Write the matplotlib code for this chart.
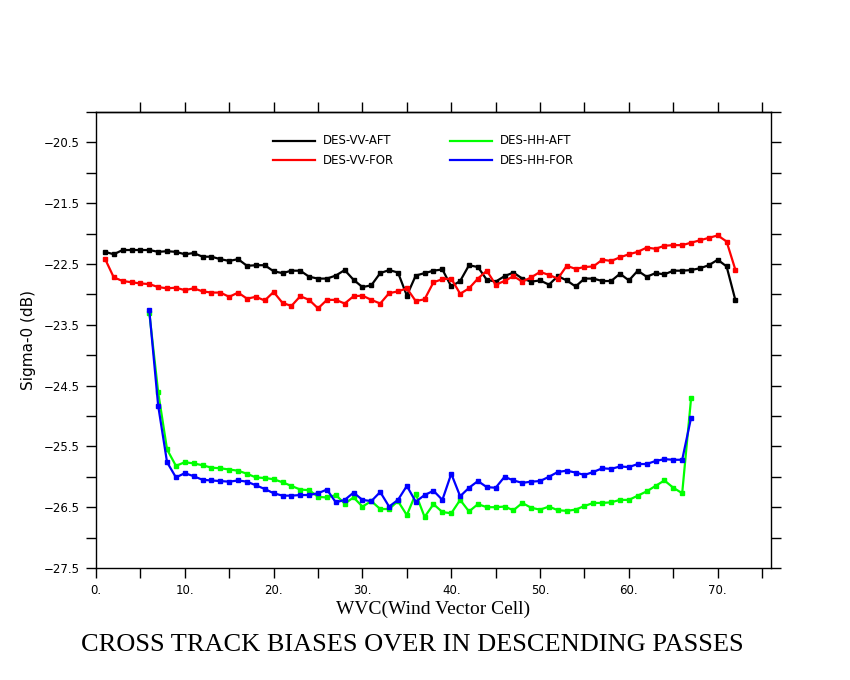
import numpy as np
import matplotlib
matplotlib.use("Agg")
import matplotlib.pyplot as plt
from matplotlib.lines import Line2D

# WVC index for each series
wvc_vv = np.arange(1, 73)
wvc_hh = np.arange(6, 68)

des_vv_aft = [-22.30, -22.34, -22.27, -22.27, -22.27, -22.27, -22.30, -22.29, -22.30, -22.34,
              -22.32, -22.38, -22.38, -22.42, -22.45, -22.42, -22.53, -22.52, -22.52, -22.62,
              -22.65, -22.61, -22.61, -22.71, -22.74, -22.74, -22.69, -22.60, -22.76, -22.88,
              -22.85, -22.65, -22.60, -22.64, -23.02, -22.69, -22.65, -22.61, -22.59, -22.87,
              -22.78, -22.52, -22.55, -22.76, -22.79, -22.70, -22.64, -22.74, -22.79, -22.77,
              -22.84, -22.70, -22.77, -22.87, -22.74, -22.74, -22.78, -22.78, -22.66, -22.77,
              -22.61, -22.71, -22.65, -22.67, -22.61, -22.61, -22.60, -22.57, -22.52, -22.43,
              -22.54, -23.10]

des_vv_for = [-22.41, -22.72, -22.78, -22.80, -22.82, -22.83, -22.88, -22.90, -22.89, -22.93,
              -22.90, -22.95, -22.97, -22.97, -23.04, -22.97, -23.07, -23.04, -23.10, -22.96,
              -23.14, -23.19, -23.03, -23.09, -23.23, -23.09, -23.09, -23.15, -23.03, -23.02,
              -23.09, -23.15, -22.98, -22.95, -22.90, -23.11, -23.08, -22.80, -22.75, -22.74,
              -22.99, -22.90, -22.74, -22.61, -22.84, -22.78, -22.70, -22.79, -22.72, -22.63,
              -22.68, -22.74, -22.53, -22.58, -22.55, -22.54, -22.43, -22.45, -22.39, -22.34,
              -22.30, -22.23, -22.25, -22.20, -22.19, -22.19, -22.15, -22.11, -22.07, -22.03,
              -22.13, -22.60]

des_hh_aft = [-23.30, -24.61, -25.55, -25.82, -25.76, -25.78, -25.81, -25.85, -25.86, -25.88,
              -25.90, -25.95, -26.01, -26.02, -26.04, -26.09, -26.15, -26.21, -26.22, -26.33,
              -26.34, -26.30, -26.44, -26.34, -26.49, -26.40, -26.53, -26.53, -26.40, -26.63,
              -26.28, -26.66, -26.45, -26.58, -26.60, -26.38, -26.57, -26.45, -26.50, -26.50,
              -26.49, -26.55, -26.43, -26.51, -26.54, -26.49, -26.55, -26.56, -26.54, -26.48,
              -26.43, -26.43, -26.42, -26.38, -26.38, -26.31, -26.24, -26.15, -26.06, -26.18,
              -26.27, -24.71]

des_hh_for = [-23.26, -24.83, -25.76, -26.01, -25.94, -25.99, -26.05, -26.06, -26.07, -26.08,
              -26.06, -26.08, -26.14, -26.20, -26.27, -26.31, -26.31, -26.30, -26.30, -26.27,
              -26.21, -26.42, -26.38, -26.26, -26.38, -26.40, -26.25, -26.49, -26.38, -26.15,
              -26.41, -26.30, -26.23, -26.38, -25.95, -26.32, -26.18, -26.07, -26.17, -26.18,
              -26.00, -26.06, -26.10, -26.08, -26.07, -26.00, -25.92, -25.90, -25.93, -25.97,
              -25.92, -25.86, -25.87, -25.83, -25.84, -25.79, -25.79, -25.74, -25.71, -25.72,
              -25.72, -25.03]

labels = ["DES-VV-AFT", "DES-VV-FOR", "DES-HH-AFT", "DES-HH-FOR"]
colors = ["black", "red", "#00ff00", "blue"]

W, H = 850, 680
fig = plt.figure(figsize=(W / 100, H / 100), dpi=100)
ax = fig.add_axes([96 / W, 1 - 568 / H, (771 - 96) / W, (568 - 112) / H])

series = [(wvc_vv, des_vv_aft), (wvc_vv, des_vv_for), (wvc_hh, des_hh_aft), (wvc_hh, des_hh_for)]
for (xx, yy), c in zip(series, colors):
    ax.plot(xx, yy, color=c, lw=1.6, marker="s", ms=2.2, mec=c, mfc=c)

ax.set_xlim(0, 76)
ax.set_ylim(-27.5, -20.0)

# y ticks every 0.5, labels at the .5 values
yt = np.arange(-27.5, -19.99, 0.5)
ax.set_yticks(yt)
ax.set_yticklabels([("%.1f" % v).replace("-", "\u2212") if abs(v * 2) % 2 == 1 else "" for v in yt])
ax.set_xticks(np.arange(0, 76, 5))
ax.set_xticklabels(["%d." % v if v % 10 == 0 else "" for v in np.arange(0, 76, 5)])

ax.tick_params(axis="both", direction="out", length=7.5, width=1.0)
ax.tick_params(axis="y", left=True, right=True, labelsize=8.5, pad=4)
ax.tick_params(axis="x", bottom=True, top=False, labelsize=8.5, pad=4)
for s in ax.spines.values():
    s.set_linewidth(1.0)

# top ticks without the one at x=0
sec = ax.secondary_xaxis("top")
sec.set_xticks(np.arange(5, 76, 5))
sec.set_xticklabels([])
sec.tick_params(direction="out", length=7.5, width=1.0)
sec.spines["top"].set_linewidth(1.0)

ax.set_xlabel("WVC(Wind Vector Cell)", family="Liberation Serif", fontsize=14, labelpad=3)
ax.set_ylabel("Sigma-0 (dB)", fontsize=11, labelpad=6)

fig.text(0.485, 1 - 645 / H, "CROSS TRACK BIASES OVER IN DESCENDING PASSES",
         family="Liberation Serif", fontsize=19, ha="center", va="center")

# legend drawn by hand in two columns
leg_pos = [(273, 141), (273, 160), (450, 141), (450, 160)]
for (px, py), lab, c in zip(leg_pos, labels, colors):
    fig.add_artist(Line2D([px / W, (px + 42) / W], [1 - py / H, 1 - py / H], color=c, lw=1.6))
    fig.text((px + 50) / W, 1 - py / H, lab, fontsize=8.5, va="center", ha="left")

fig.savefig("out.png", dpi=100)
